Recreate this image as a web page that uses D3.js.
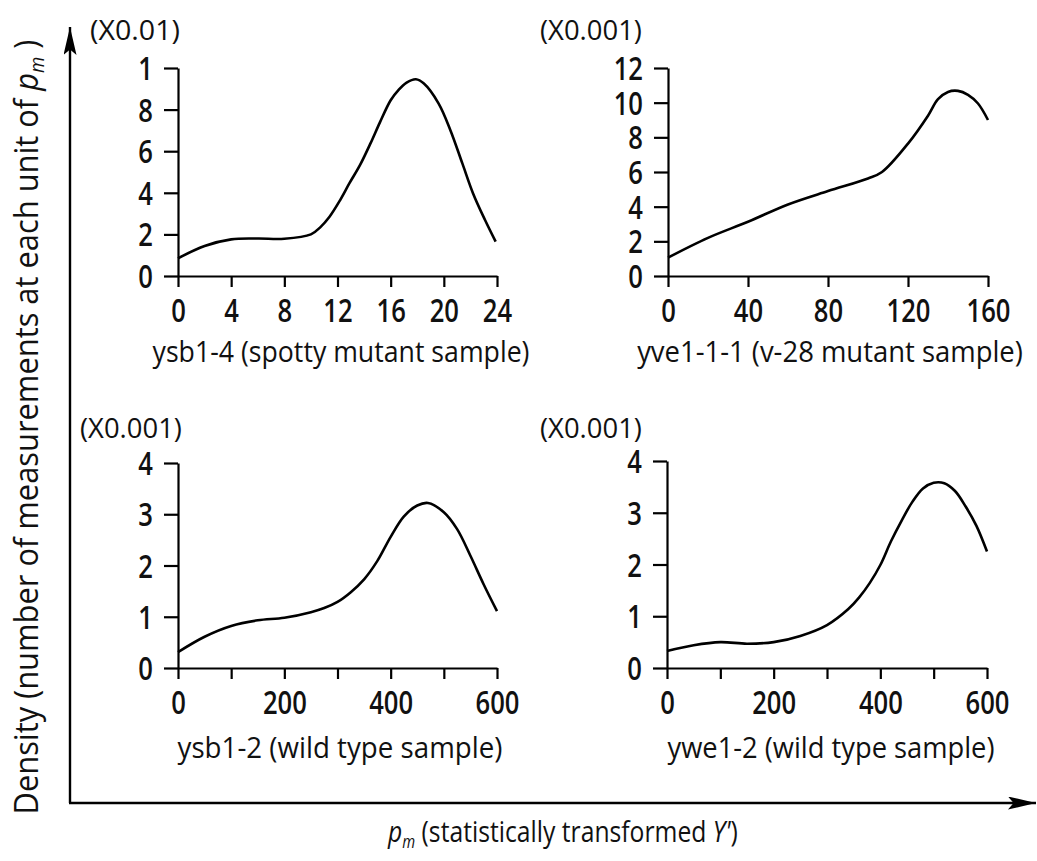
<!DOCTYPE html>
<html>
<head>
<meta charset="utf-8">
<script src="https://cdn.jsdelivr.net/npm/d3@7"></script>
<style>
  body { margin: 0; background: #fff; }
  svg text { font-family: "Open Sans", "Liberation Sans", sans-serif; fill: #111; }
</style>
</head>
<body>
<div id="container"></div>
<script>
/* DATA */
// ysb1-4 (spotty mutant sample), density x0.01
const tlX = [0, 2, 4, 6, 8, 10, 10.7, 11.4, 12.2, 12.9, 13.7, 14.5, 15.2, 16, 16.6, 17.2, 17.9, 18.5, 19.6, 20.5, 21.4, 22.2, 23.1, 23.9];
const tlY = [0.85, 1.44, 1.76, 1.8, 1.79, 2.0, 2.34, 2.85, 3.65, 4.46, 5.34, 6.4, 7.4, 8.45, 8.95, 9.3, 9.46, 9.25, 8.3, 7.0, 5.4, 3.97, 2.69, 1.65];
const tlXTicks = [0, 4, 8, 12, 16, 20, 24];
const tlYTicks = [0, 2, 4, 6, 8, 10];
const tlYLabels = ["0", "2", "4", "6", "8", "1"];

// yve1-1-1 (v-28 mutant sample), density x0.001
const trX = [0, 20, 40, 60, 80, 100, 107, 120, 130, 135, 140, 145, 150, 155, 160];
const trY = [1.06, 2.2, 3.13, 4.13, 4.9, 5.63, 6.0, 7.64, 9.25, 10.2, 10.62, 10.68, 10.45, 9.95, 9.0];
const trXTicks = [0, 40, 80, 120, 160];
const trYTicks = [0, 2, 4, 6, 8, 10, 12];

// ysb1-2 (wild type sample), density x0.001
const blX = [0, 50, 100, 150, 200, 250, 275, 300, 325, 350, 375, 400, 425, 450, 470, 500, 525, 550, 575, 600];
const blY = [0.31, 0.61, 0.82, 0.93, 0.98, 1.09, 1.17, 1.29, 1.48, 1.73, 2.09, 2.56, 2.96, 3.17, 3.22, 3.04, 2.71, 2.19, 1.63, 1.11];

// ywe1-2 (wild type sample), density x0.001
const brX = [0, 50, 100, 150, 200, 250, 300, 340, 360, 380, 400, 420, 440, 460, 480, 500, 520, 540, 560, 580, 600];
const brY = [0.33, 0.44, 0.50, 0.47, 0.50, 0.62, 0.83, 1.14, 1.36, 1.64, 1.99, 2.45, 2.85, 3.21, 3.47, 3.58, 3.57, 3.42, 3.12, 2.75, 2.25];

const wideXTicks = [0, 100, 200, 300, 400, 500, 600];
const wideXLabels = [0, 200, 400, 600];
const wideYTicks = [0, 1, 2, 3, 4];

/* CONSTANTS */
const width = 1037;
const height = 861;
const squeeze = 0.8; // the original type is a condensed face

const panels = [
  { xs: tlX, ys: tlY, xMax: 24, yMax: 10, xTicks: tlXTicks, xLabels: tlXTicks, yTicks: tlYTicks, yLabels: tlYLabels,
    left: 178, right: 497, top: 68, bottom: 276, mult: "(X0.01)", multX: 90, multY: 40, multW: 90,
    name: "ysb1-4 (spotty mutant sample)", nameX: 341, nameY: 362, nameW: 377 },
  { xs: trX, ys: trY, xMax: 160, yMax: 12, xTicks: trXTicks, xLabels: trXTicks, yTicks: trYTicks, yLabels: trYTicks.map(String),
    left: 668, right: 988, top: 68, bottom: 276, mult: "(X0.001)", multX: 540, multY: 40, multW: 102,
    name: "yve1-1-1 (v-28 mutant sample)", nameX: 830, nameY: 362, nameW: 386 },
  { xs: blX, ys: blY, xMax: 600, yMax: 4, xTicks: wideXTicks, xLabels: wideXLabels, yTicks: wideYTicks, yLabels: wideYTicks.map(String),
    left: 178, right: 497, top: 463, bottom: 668, mult: "(X0.001)", multX: 80, multY: 438, multW: 102,
    name: "ysb1-2 (wild type sample)", nameX: 340, nameY: 758, nameW: 325 },
  { xs: brX, ys: brY, xMax: 600, yMax: 4, xTicks: wideXTicks, xLabels: wideXLabels, yTicks: wideYTicks, yLabels: wideYTicks.map(String),
    left: 667, right: 987, top: 461, bottom: 668, mult: "(X0.001)", multX: 540, multY: 438, multW: 102,
    name: "ywe1-2 (wild type sample)", nameX: 831, nameY: 758, nameW: 327 }
];

const svg = d3.select("#container")
  .append("svg")
  .attr("width", width)
  .attr("height", height);

// squeeze a text horizontally so it spans the wanted width
function fit(text, w, pre) {
  const k = w / text.node().getComputedTextLength();
  text.attr("transform", `${pre} scale(${k},1)`);
}

svg.append("defs").append("marker")
  .attr("id", "arrow")
  .attr("viewBox", "0 0 10 10")
  .attr("preserveAspectRatio", "none")
  .attr("refX", 10).attr("refY", 5)
  .attr("markerWidth", 28).attr("markerHeight", 13)
  .attr("markerUnits", "userSpaceOnUse")
  .attr("orient", "auto")
  .append("path")
  .attr("d", "M0,0 L10,5 L0,10 L2,5 Z")
  .attr("fill", "#000");

// big outer axes with arrows
svg.append("line")
  .attr("x1", 70).attr("y1", 803).attr("x2", 70).attr("y2", 27)
  .attr("stroke", "#000").attr("stroke-width", 2.4)
  .attr("marker-end", "url(#arrow)");
svg.append("line")
  .attr("x1", 69).attr("y1", 803).attr("x2", 1036).attr("y2", 803)
  .attr("stroke", "#000").attr("stroke-width", 2.4)
  .attr("marker-end", "url(#arrow)");

// outer titles
const yTitle = svg.append("text")
  .attr("text-anchor", "middle")
  .style("font-size", "33px");
yTitle.append("tspan").text("Density (number of measurements at each unit of ");
yTitle.append("tspan").text("p").style("font-style", "italic");
yTitle.append("tspan").text("m").style("font-style", "italic").style("font-size", "20px").attr("dy", 6);
yTitle.append("tspan").text(" )").attr("dy", -6);
fit(yTitle, 775, "translate(38,427) rotate(-90)");

const xTitle = svg.append("text")
  .style("font-size", "30px");
xTitle.append("tspan").text("p").style("font-style", "italic");
xTitle.append("tspan").text("m").style("font-style", "italic").style("font-size", "18px").attr("dy", 6);
xTitle.append("tspan").text(" (statistically transformed ").attr("dy", -6);
xTitle.append("tspan").text("Y'").style("font-style", "italic");
xTitle.append("tspan").text(")");
fit(xTitle, 350, "translate(388,842)");

/* PANELS */
panels.forEach(p => {
  const x = d3.scaleLinear().domain([0, p.xMax]).range([p.left, p.right]);
  const y = d3.scaleLinear().domain([0, p.yMax]).range([p.bottom, p.top]);

  const gy = svg.append("g")
    .attr("transform", `translate(${p.left},0)`)
    .call(d3.axisLeft(y).tickValues(p.yTicks).tickSize(14).tickSizeOuter(0).tickPadding(12)
      .tickFormat((d, i) => p.yLabels[i]));

  const gx = svg.append("g")
    .attr("transform", `translate(0,${p.bottom})`)
    .call(d3.axisBottom(x).tickValues(p.xTicks).tickSize(11).tickSizeOuter(0).tickPadding(12)
      .tickFormat(d => p.xLabels.includes(d) ? d : ""));

  [gx, gy].forEach(g => {
    g.select(".domain").attr("stroke", "#000").attr("stroke-width", 2.2);
    g.selectAll(".tick line").attr("stroke", "#000").attr("stroke-width", 2.2);
    g.selectAll(".tick text")
      .style("font-size", "32px")
      .style("font-family", "'Open Sans', 'Liberation Sans', sans-serif")
      .style("font-weight", 600)
      .attr("fill", "#111")
      .attr("transform", `scale(${squeeze},1)`);
  });
  gy.selectAll(".tick text").attr("dy", "0.36em").attr("x", -25 / squeeze);

  const mult = svg.append("text")
    .style("font-size", "27px")
    .text(p.mult);
  fit(mult, p.multW, `translate(${p.multX},${p.multY})`);

  const name = svg.append("text")
    .attr("text-anchor", "middle")
    .style("font-size", "29px")
    .text(p.name);
  fit(name, p.nameW, `translate(${p.nameX},${p.nameY})`);

  const line = d3.line()
    .x(d => x(d[0]))
    .y(d => y(d[1]))
    .curve(d3.curveCatmullRom.alpha(0.5));

  svg.append("path")
    .datum(p.xs.map((v, i) => [v, p.ys[i]]))
    .attr("d", line)
    .attr("fill", "none")
    .attr("stroke", "#000")
    .attr("stroke-width", 2.6);
});
</script>
</body>
</html>
